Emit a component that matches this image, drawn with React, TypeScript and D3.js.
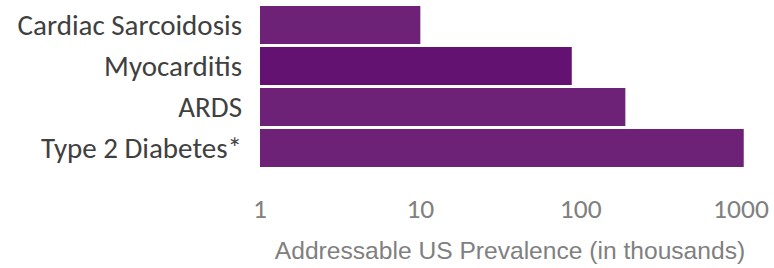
import React from "react";
import * as d3 from "d3";

const categories = ["Cardiac Sarcoidosis", "Myocarditis", "ARDS", "Type 2 Diabetes*"];
const values = [10, 88, 190, 1040];
const barColors = ["#6d2277", "#631271", "#6d2277", "#6d2277"];
const tickValues = [1, 10, 100, 1000];
const axisTitle = "Addressable US Prevalence (in thousands)";

export default function App() {
  const width = 774;
  const height = 268;
  const x = d3.scaleLog().domain([1, 1000]).range([260, 741]);
  const y = d3.scaleBand<string>().domain(categories).range([6, 167]).paddingInner(0.073).paddingOuter(0);
  const labelFont = "Carlito, Calibri, Lato, sans-serif";
  return (
    <svg width={width} height={height} style={{ position: "absolute", left: 0, top: 0, background: "#fff" }}>
      {categories.map((c, i) => (
        <rect key={c} x={x(1)} y={y(c)!} width={x(values[i]) - x(1)} height={y.bandwidth()} fill={barColors[i]} />
      ))}
      {categories.map((c) => (
        <text key={c} x={242} y={y(c)! + y.bandwidth() / 2} dy="0.35em" textAnchor="end"
          fontFamily={labelFont} fontSize={29} fill="#404040">{c}</text>
      ))}
      {tickValues.map((t) => (
        <text key={t} x={x(t)} y={218} textAnchor="middle" fontFamily={labelFont} fontSize={27.5} fill="#808080">{t}</text>
      ))}
      <text x={510} y={259} textAnchor="middle" fontFamily="'Liberation Sans', Arial, sans-serif" fontSize={24.6} fill="#808080">{axisTitle}</text>
    </svg>
  );
}
